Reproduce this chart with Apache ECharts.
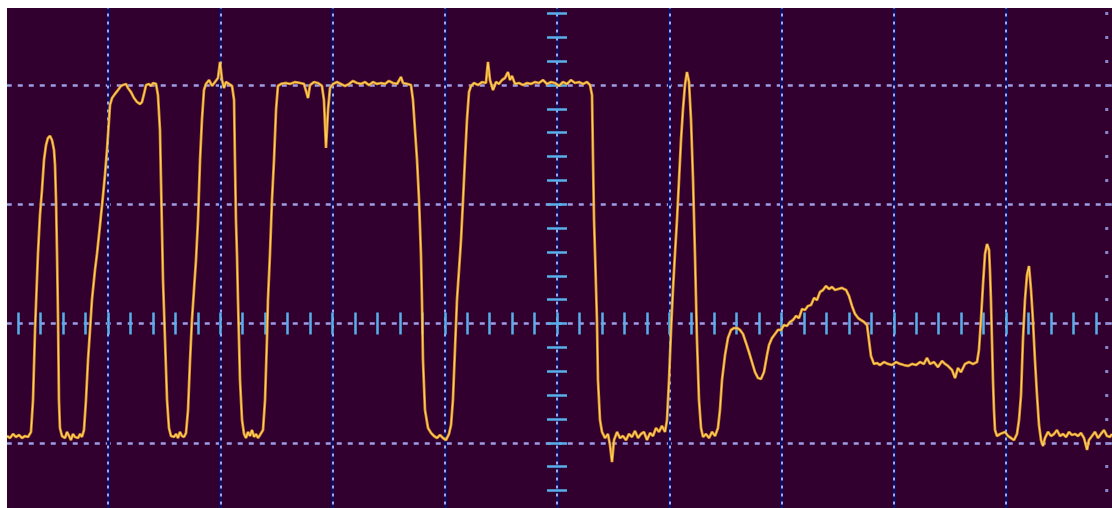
<!DOCTYPE html>
<html><head><meta charset="utf-8">
<script src="https://cdn.jsdelivr.net/npm/echarts@6/dist/echarts.min.js"></script>
<style>
html,body{margin:0;padding:0;background:#ffffff;width:1112px;height:508px;overflow:hidden}
#chart{position:absolute;left:7px;top:8px;width:1105px;height:500px;background:#31002f}
</style></head><body><div id="chart"></div>
<script>
// time in divisions (0 = screen centre), voltage in divisions
const lowStart = [[-4.900,-0.943],[-4.873,-0.960],[-4.846,-0.926],[-4.820,-0.951],[-4.793,-0.935],[-4.766,-0.960],[-4.739,-0.943],[-4.713,-0.951],[-4.686,-0.909]];
const firstPeak = [[-4.668,-0.641],[-4.650,-0.054],[-4.633,0.365],[-4.624,0.583],[-4.606,0.909],[-4.588,1.119],[-4.570,1.371],[-4.552,1.496],[-4.535,1.555],[-4.517,1.572],[-4.499,1.538],[-4.481,1.454],[-4.472,1.329],[-4.463,1.035],[-4.454,0.583],[-4.445,0.029],[-4.437,-0.641],[-4.428,-0.876],[-4.410,-0.943],[-4.383,-0.960],[-4.365,-0.909],[-4.347,-0.943],[-4.330,-0.977],[-4.312,-0.926],[-4.294,-0.951],[-4.267,-0.960],[-4.249,-0.926],[-4.232,-0.951],[-4.214,-0.893]];
const pulse1 = [[-4.196,-0.641],[-4.178,-0.306],[-4.160,-0.054],[-4.143,0.197],[-4.116,0.448],[-4.098,0.583],[-4.071,0.826],[-4.044,1.077],[-4.027,1.245],[-4.009,1.454],[-3.991,1.706],[-3.982,1.832],[-3.964,1.890],[-3.938,1.924],[-3.911,1.957],[-3.884,1.991],[-3.866,1.999],[-3.840,2.008],[-3.822,1.974],[-3.795,1.940],[-3.768,1.890],[-3.742,1.857],[-3.715,1.840],[-3.697,1.857],[-3.679,1.924],[-3.661,1.999],[-3.635,2.008],[-3.617,1.991],[-3.599,2.016],[-3.572,2.008],[-3.555,1.915],
  [-3.537,1.622],[-3.528,1.203],[-3.519,0.784],[-3.510,0.365],[-3.492,-0.138],[-3.474,-0.641],[-3.457,-0.876],[-3.439,-0.943],[-3.412,-0.951],[-3.394,-0.926],[-3.376,-0.960],[-3.359,-0.909],[-3.341,-0.943],[-3.323,-0.951],[-3.305,-0.918]];
const pulse2 = [[-3.287,-0.725],[-3.269,-0.306],[-3.252,0.029],[-3.234,0.281],[-3.216,0.532],[-3.198,0.868],[-3.180,1.371],[-3.163,1.706],[-3.145,1.957],[-3.127,2.008],[-3.100,2.041],[-3.073,1.991],[-3.047,2.024],[-3.020,2.058],[-3.002,2.192],[-2.984,2.041],[-2.967,1.974],[-2.949,2.024],[-2.922,2.008],[-2.895,1.991],[-2.877,1.873],
  [-2.869,1.371],[-2.860,0.868],[-2.851,0.583],[-2.842,0.197],[-2.824,-0.474],[-2.806,-0.809],[-2.788,-0.926],[-2.771,-0.960],[-2.753,-0.909],[-2.735,-0.943],[-2.717,-0.893],[-2.699,-0.951],[-2.681,-0.926],[-2.664,-0.960],[-2.646,-0.935],[-2.619,-0.893]];
const pulse3 = [[-2.601,-0.641],[-2.584,-0.138],[-2.575,0.197],[-2.557,0.583],[-2.539,1.035],[-2.521,1.371],[-2.503,1.790],[-2.486,1.991],[-2.459,2.008],[-2.423,2.016],[-2.379,2.008],[-2.334,2.024],[-2.290,2.016],[-2.254,2.008],[-2.218,1.890],[-2.200,1.999],[-2.165,2.024],[-2.129,2.016],[-2.094,1.991],[-2.076,1.873],[-2.058,1.471],[-2.040,1.790],[-2.022,1.974],[-1.996,2.008],[-1.960,2.024],[-1.924,2.008],[-1.889,1.991],[-1.853,2.008],[-1.817,2.033],[-1.782,2.016],[-1.746,2.008],[-1.710,2.024],[-1.675,1.999],[-1.639,2.024],[-1.604,2.008],[-1.568,2.016],[-1.532,2.008],[-1.497,2.033],[-1.461,2.016],[-1.425,2.008],[-1.390,2.066],[-1.372,2.016],[-1.336,2.008],[-1.301,1.999],
  [-1.283,1.873],[-1.265,1.622],[-1.247,1.371],[-1.229,1.035],[-1.212,0.583],[-1.203,0.197],[-1.194,-0.306],[-1.176,-0.725],[-1.149,-0.876],[-1.122,-0.918],[-1.096,-0.943],[-1.069,-0.960],[-1.042,-0.935],[-1.016,-0.960],[-0.989,-0.977],[-0.962,-0.926],[-0.944,-0.851]];
const pulse4 = [[-0.927,-0.641],[-0.909,-0.222],[-0.891,0.197],[-0.873,0.448],[-0.855,0.700],[-0.837,1.035],[-0.820,1.371],[-0.802,1.706],[-0.784,1.940],[-0.766,1.991],[-0.739,2.016],[-0.704,1.999],[-0.668,2.024],[-0.633,2.016],[-0.615,2.192],[-0.597,2.041],[-0.570,1.957],[-0.543,2.024],[-0.517,2.008],[-0.490,2.041],[-0.463,2.058],[-0.437,2.108],[-0.419,2.041],[-0.401,2.075],[-0.374,2.008],[-0.339,2.016],[-0.303,1.999],[-0.267,2.016],[-0.232,2.008],[-0.196,2.024],[-0.160,2.016],[-0.125,2.041],[-0.089,2.008],[-0.053,2.024],[-0.018,2.016],[0.018,1.991],[0.053,2.024],[0.089,2.008],[0.125,2.041],[0.160,2.016],[0.196,2.024],[0.232,2.008],[0.267,2.024],[0.294,1.999],
  [0.312,1.915],[0.321,1.371],[0.330,0.868],[0.339,0.583],[0.356,0.029],[0.365,-0.474],[0.383,-0.809],[0.401,-0.909],[0.428,-0.960],[0.454,-0.926],[0.472,-1.018],[0.490,-1.161],[0.508,-0.977],[0.535,-0.909],[0.561,-0.960],[0.588,-0.943],[0.615,-0.977],[0.641,-0.926],[0.668,-0.951],[0.695,-0.901],[0.722,-0.960],[0.748,-0.926],[0.775,-0.909],[0.802,-0.977],[0.829,-0.918],[0.855,-0.943],[0.882,-0.876],[0.909,-0.909],[0.935,-0.859],[0.962,-0.909]];
const narrowSpike = [[0.980,-0.809],[0.998,-0.474],[1.016,-0.054],[1.033,0.281],[1.051,0.583],[1.069,0.868],[1.087,1.203],[1.105,1.538],[1.122,1.790],[1.140,1.999],[1.158,2.108],[1.176,2.024],[1.194,1.706],[1.212,1.203],[1.229,0.583],[1.247,-0.138],[1.265,-0.641],[1.283,-0.876],[1.301,-0.951],[1.327,-0.926],[1.354,-0.960],[1.381,-0.909],[1.408,-0.943],[1.434,-0.876]];
const humpAndStep = [[1.452,-0.725],[1.470,-0.474],[1.497,-0.264],[1.523,-0.122],[1.550,-0.054],[1.577,-0.038],[1.604,-0.038],[1.630,-0.054],[1.657,-0.088],[1.684,-0.163],[1.710,-0.239],[1.737,-0.323],[1.764,-0.407],[1.791,-0.457],[1.817,-0.465],[1.844,-0.407],[1.871,-0.264],[1.889,-0.180],[1.915,-0.122],[1.942,-0.088],[1.969,-0.054],[1.996,-0.054],[2.022,-0.013],[2.049,-0.021],[2.076,0.013],[2.102,0.029],[2.129,0.063],[2.156,0.046],[2.183,0.122],[2.209,0.113],[2.236,0.147],[2.263,0.155],[2.290,0.214],[2.316,0.197],[2.343,0.264],[2.370,0.281],[2.396,0.314],[2.423,0.289],[2.450,0.306],[2.477,0.281],[2.503,0.289],[2.539,0.298],[2.575,0.281],[2.601,0.231],[2.628,0.147],[2.655,0.080],[2.682,0.046],[2.708,0.029],[2.735,0.013],[2.762,-0.013],[2.779,-0.138],[2.797,-0.272],[2.824,-0.339],[2.851,-0.331],[2.877,-0.348],[2.913,-0.323],[2.949,-0.339],[2.984,-0.348],[3.020,-0.323],[3.056,-0.339],[3.091,-0.348],[3.127,-0.356],[3.163,-0.339],[3.198,-0.348],[3.234,-0.323],[3.269,-0.339],[3.296,-0.289],[3.323,-0.339],[3.359,-0.323],[3.394,-0.365],[3.430,-0.314],[3.457,-0.339],[3.483,-0.356],[3.519,-0.390],[3.546,-0.457],[3.572,-0.373],[3.599,-0.407],[3.635,-0.339],[3.670,-0.323],[3.706,-0.339],[3.742,-0.323]];
const endPeaks = [[3.759,-0.222],[3.777,0.029],[3.795,0.323],[3.813,0.583],[3.831,0.666],[3.849,0.616],[3.857,0.448],[3.866,0.197],[3.875,-0.138],[3.884,-0.474],[3.893,-0.725],[3.902,-0.893],[3.920,-0.943],[3.947,-0.926],[3.964,-0.918],[3.991,-0.909],[4.018,-0.943],[4.045,-0.960],[4.071,-0.977],[4.098,-0.926],[4.116,-0.809],[4.134,-0.599],[4.151,-0.138],[4.169,0.197],[4.187,0.407],[4.205,0.482],[4.223,0.281],[4.240,0.029],[4.258,-0.306],[4.276,-0.599],[4.294,-0.851],[4.312,-0.977],[4.330,-1.027],[4.347,-0.960],[4.374,-0.909],[4.401,-0.943],[4.428,-0.926],[4.454,-0.893],[4.481,-0.943],[4.508,-0.926],[4.535,-0.951],[4.561,-0.909],[4.588,-0.935],[4.615,-0.926],[4.641,-0.943],[4.668,-0.918],[4.695,-0.960],[4.722,-1.060],[4.739,-0.977],[4.766,-0.943],[4.793,-0.909],[4.820,-0.960],[4.846,-0.926],[4.873,-0.893],[4.900,-0.943],[4.926,-0.951],[4.944,-0.926]];

const timeRange = [-5, 5];
const voltRange = [-2, 3];

const trace = [].concat(lowStart, firstPeak, pulse1, pulse2, pulse3, pulse4, narrowSpike, humpAndStep, endPeaks);

const chart = echarts.init(document.getElementById('chart'), null, {renderer: 'canvas'});
const hidden = {axisLabel: {show: false}, axisTick: {show: false}, axisLine: {show: false}};
const tickStyle = {color: '#58b0ea', width: 2.5};
function tickAxis(pos, len, interval, range) {
  return {type: 'value', min: range[0], max: range[1], interval: interval, position: pos,
    axisLine: {show: false, onZero: true, onZeroAxisIndex: 0},
    axisTick: {show: true, length: len, lineStyle: tickStyle},
    axisLabel: {show: false}, splitLine: {show: false}};
}
chart.setOption({
  animation: false,
  backgroundColor: 'transparent',
  grid: {left: -11.25, top: -42.4, width: 1122.5, height: 596.5, outerBoundsMode: 'none', containLabel: false},
  xAxis: [
    Object.assign({type: 'value', min: timeRange[0], max: timeRange[1], interval: 1,
      splitLine: {show: true, lineStyle: {color: '#0e0e62', width: 3, type: 'solid'}}}, hidden),
    Object.assign({type: 'value', min: timeRange[0], max: timeRange[1], interval: 1,
      splitLine: {show: true, lineStyle: {color: '#a2aaee', width: 2, type: [3, 5]}}}, hidden),
    tickAxis('bottom', 11, 0.2, timeRange),
    tickAxis('top', 11, 0.2, timeRange)
  ],
  yAxis: [
    Object.assign({type: 'value', min: voltRange[0], max: voltRange[1], interval: 1,
      splitLine: {show: true, lineStyle: {color: '#9d9de6', width: 2.5, type: [5, 6]}}}, hidden),
    tickAxis('left', 10, 0.2, voltRange),
    tickAxis('right', 10, 0.2, voltRange),
    {type: 'value', min: voltRange[0], max: voltRange[1], interval: 0.2, position: 'right', offset: -10,
      axisLine: {show: false, onZero: false}, axisLabel: {show: false}, splitLine: {show: false},
      axisTick: {show: true, length: 3, inside: true, lineStyle: {color: '#8a86d0', width: 3}}}
  ],
  series: [
    {type: 'line', data: trace, showSymbol: false, xAxisIndex: 0, yAxisIndex: 0, z: 5,
      lineStyle: {color: '#e8952a', width: 2.8, opacity: 0.9}},
    {type: 'line', data: trace, showSymbol: false, xAxisIndex: 0, yAxisIndex: 0, z: 6,
      lineStyle: {color: '#fbd45c', width: 1.2}}
  ]
});
</script></body></html>
